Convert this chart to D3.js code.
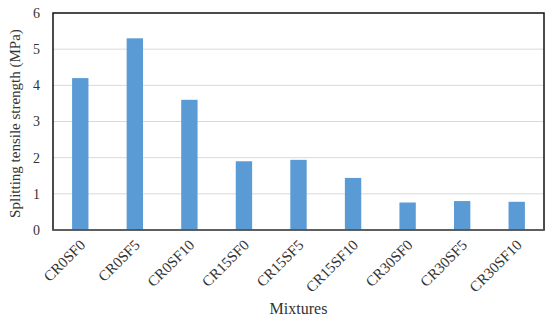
<!DOCTYPE html>
<html>
<head>
<meta charset="utf-8">
<script src="https://cdn.jsdelivr.net/npm/d3@7"></script>
<style>
  body { margin: 0; background: #fff; }
  svg text { font-family: 'Liberation Serif', 'Times New Roman', Times, serif !important; fill: #333; }
</style>
</head>
<body>
<div class="plot"></div>
<script>
// data
const mixtures = ['CR0SF0', 'CR0SF5', 'CR0SF10', 'CR15SF0', 'CR15SF5', 'CR15SF10', 'CR30SF0', 'CR30SF5', 'CR30SF10'];
const strength = [4.2, 5.3, 3.6, 1.9, 1.94, 1.44, 0.76, 0.8, 0.78];
const yTicks = [0, 1, 2, 3, 4, 5, 6];

const W = 550, H = 322;
const mLeft = 53, mTop = 13, mRight = 544, mBottom = 230;
const barColor = '#5B9BD5';
const serif = "'Liberation Serif', 'Times New Roman', serif";

const svg = d3.select('.plot')
    .append('svg')
    .attr('width', W)
    .attr('height', H);

const xScale = d3.scaleBand()
    .domain(mixtures)
    .range([mLeft, mRight])
    .paddingInner(0.7)
    .paddingOuter(0.35);

const yScale = d3.scaleLinear()
    .domain([0, 6])
    .range([mBottom, mTop]);

// gridlines
svg.append('g')
    .selectAll('line')
    .data(yTicks.filter(t => t > 0 && t < 6))
    .enter()
    .append('line')
    .attr('x1', mLeft)
    .attr('x2', mRight)
    .attr('y1', d => yScale(d))
    .attr('y2', d => yScale(d))
    .attr('stroke', '#d9d9d9')
    .attr('stroke-width', 1);

// bars
svg.selectAll('rect.bar')
    .data(mixtures)
    .enter()
    .append('rect')
    .attr('class', 'bar')
    .attr('x', d => xScale(d))
    .attr('width', xScale.bandwidth())
    .attr('y', (d, i) => yScale(strength[i]))
    .attr('height', (d, i) => yScale(0) - yScale(strength[i]))
    .attr('fill', barColor);

// frame
svg.append('rect')
    .attr('x', mLeft)
    .attr('y', mTop)
    .attr('width', mRight - mLeft)
    .attr('height', mBottom - mTop)
    .attr('fill', 'none')
    .attr('stroke', '#111')
    .attr('stroke-width', 1.5);

svg.append('line')
    .attr('x1', mLeft)
    .attr('x2', mRight)
    .attr('y1', mBottom)
    .attr('y2', mBottom)
    .attr('stroke', '#666')
    .attr('stroke-width', 1.5);

// y axis labels
const yAxis = d3.axisLeft(yScale)
    .tickValues(yTicks)
    .tickSize(0)
    .tickPadding(13)
    .tickFormat(d3.format('d'));

svg.append('g')
    .attr('transform', `translate(${mLeft}, 0)`)
    .call(yAxis)
    .attr('font-family', serif)
    .attr('font-size', 14)
    .call(g => g.select('.domain').remove())
    .selectAll('text')
    .attr('fill', '#333');

// x axis labels
const xAxis = d3.axisBottom(xScale).tickSize(0).tickPadding(0);

svg.append('g')
    .attr('transform', `translate(0, ${mBottom})`)
    .call(xAxis)
    .attr('font-family', serif)
    .attr('font-size', 15)
    .call(g => g.select('.domain').remove())
    .selectAll('text')
    .attr('fill', '#333')
    .attr('dy', 0)
    .attr('y', 0)
    .attr('text-anchor', 'end')
    .attr('transform', 'translate(6, 16) rotate(-45)');

// axis titles
svg.append('text')
    .text('Splitting tensile strength (MPa)')
    .attr('text-anchor', 'middle')
    .attr('font-family', serif)
    .attr('font-size', 15)
    .attr('transform', `translate(20, ${(mTop + mBottom) / 2 + 2}) rotate(-90)`);

svg.append('text')
    .text('Mixtures')
    .attr('text-anchor', 'middle')
    .attr('font-family', serif)
    .attr('font-size', 16)
    .attr('x', (mLeft + mRight) / 2)
    .attr('y', 314);
</script>
</body>
</html>
